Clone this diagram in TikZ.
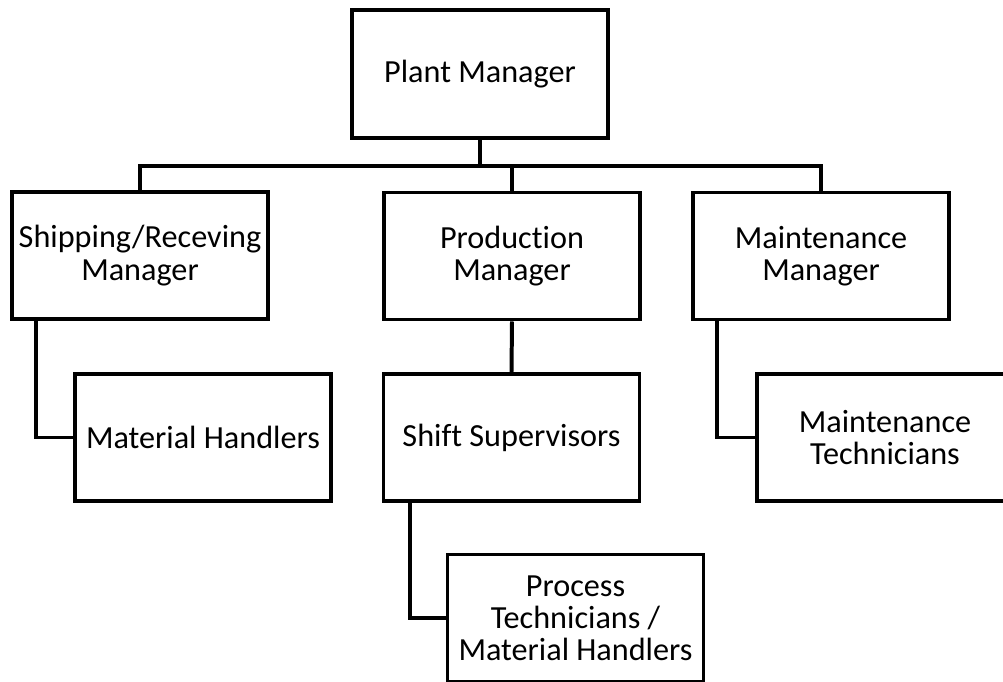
\documentclass[tikz,border=0pt]{standalone}
\usepackage{fontspec}
\setmainfont{Carlito}[Ligatures=NoCommon]
\begin{document}
\begin{tikzpicture}[
        x=0.03cm,
        y=-0.03cm,
        box/.style={draw, line width=3.4pt, minimum width=256*0.03cm,
            minimum height=127*0.03cm, inner sep=0pt, align=center,
            font=\fontsize{27.5}{27.5}\selectfont},
        link/.style={line width=3.4pt}
    ]
    \useasboundingbox (0,0) rectangle (1003,682);
    \clip (0,0) rectangle (1003,682);

    \node [box, minimum height=128*0.03cm] (plant) at (480,74) {Plant Manager};
    \node [box] (ship) at (140,255.5) {Shipping/Receving\\Manager};
    \node [box] (prod) at (512,256) {Production\\Manager};
    \node [box] (maint) at (821,256) {Maintenance\\Manager};

    \node [box] (mat) at (203,437.5) {Material Handlers};
    \node [box] (shift) at (511.5,437.5) {Shift Supervisors};
    \node [box] (mtech) at (885,437.5) {Maintenance\\Technicians};
    \node [box] (proc) at (575.5,618) {Process\\Technicians /\\Material Handlers};

    \coordinate (bus) at (0,166);
    \draw [link] (plant.south) -- (plant.south |- bus);
    \draw [link] (ship.north) |- (bus -| maint.north) -- (maint.north);
    \draw [link] (prod.north) -- (prod.north |- bus);

    \draw [link] (prod.south) -- (shift.north);
    \draw [link] (ship.south west) ++(26,0) |- (mat.west);
    \draw [link] (maint.south west) ++(26,0) |- (mtech.west);
    \draw [link] (shift.south west) ++(28,0) |- (proc.west);
\end{tikzpicture}
\end{document}
